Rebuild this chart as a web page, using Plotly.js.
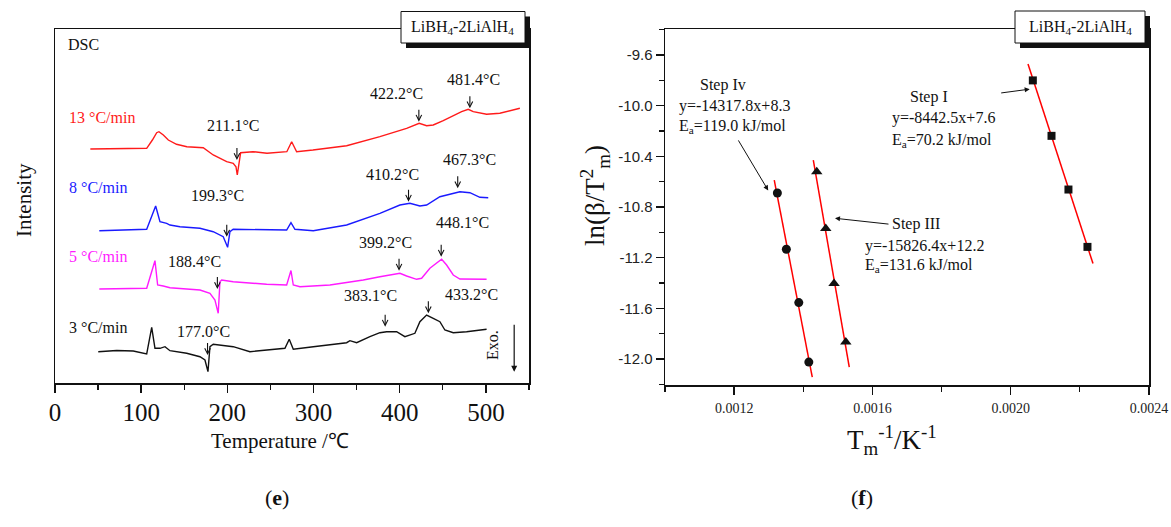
<!DOCTYPE html>
<html>
<head>
<meta charset="utf-8">
<script src="https://cdn.plot.ly/plotly-3.0.1.min.js"></script>
<style>html,body{margin:0;padding:0;background:#fff;}#chart{width:1171px;height:527px;}</style>
</head>
<body>
<div id="chart"></div>
<script>
// ---------- Panel (e): DSC curves (temperature in °C, intensity in arbitrary units) ----------
const tRed = [41, 106.4, 113, 118, 120.6, 125.7, 131.5, 141, 153, 172, 183.6, 199.2, 206.8, 210, 211.5, 213.1, 215.4, 229.7, 246, 269, 274.6, 280.4, 299.3, 338.4, 377, 408, 422.6, 431.2, 438.9, 450.5, 462.1, 471.8, 479.5, 485.3, 500.8, 516.2, 539.4];
const iRed = [234, 234.7, 243, 250.3, 251.3, 248, 243, 238.7, 236.3, 235.3, 228, 221.3, 219.7, 216.3, 208, 219.7, 230.3, 231.3, 229.7, 231.3, 241.3, 231.3, 233, 237.3, 246.3, 254.7, 259.7, 257.3, 258, 262.3, 267.3, 271.3, 273.7, 271.3, 268.7, 269.7, 274.7];

const tBlue = [51.4, 106.4, 116.8, 121.8, 129.6, 133.4, 145, 168.2, 183.6, 195.2, 200.3, 203, 206.8, 245.6, 268.8, 273.8, 278.4, 299.7, 338.4, 377, 400.2, 411.8, 423.4, 431.2, 446.6, 469.8, 481.4, 493, 502.7];
const iBlue = [152.3, 153.7, 177, 161.3, 159.7, 158, 156.3, 154.7, 151.3, 146.3, 135.7, 151.3, 153.7, 153, 153, 160.3, 153.7, 152.3, 158, 169.7, 178, 179.7, 177, 178, 186.3, 191.3, 190.3, 185.7, 185.3];

const tMag = [51.4, 106.4, 116, 119.1, 125.6, 133.4, 168.2, 179.8, 185.6, 189.4, 191.4, 193.4, 206.8, 245.6, 268.8, 273.8, 276.5, 284.2, 319, 357.7, 377, 400.2, 408, 419.6, 425.4, 435, 448.6, 454.4, 462.1, 469.8, 500.8];
const iMag = [94, 94.7, 122.3, 98, 97, 95.3, 93, 89.7, 83, 69.7, 101.3, 103, 101.3, 98.7, 98, 112.5, 98, 96.3, 98, 103, 106.3, 109.7, 107, 103.7, 104.7, 114.7, 123.7, 118, 108, 104, 103.7];

const tBlk = [50.2, 71.6, 90.8, 106.4, 112.2, 116, 121.8, 127.6, 133.4, 152.8, 168.2, 174, 177.5, 179.8, 183.6, 206.8, 226.2, 245.6, 266.8, 271.8, 276.5, 299.7, 338.4, 342.2, 350, 365.4, 377, 384.8, 396.4, 406, 411.8, 417.6, 423.4, 431.2, 438.9, 446.6, 452.4, 462.1, 477.6, 500.8];
const iBlk = [31.3, 32.5, 32, 29, 55.7, 34.7, 34.7, 36.3, 32.3, 29.7, 26.3, 23, 11.3, 36.3, 38.7, 36.3, 31.3, 33, 34.7, 43.7, 33.7, 36.3, 40.3, 42.3, 40.3, 46.3, 50.3, 51.3, 51.3, 46.3, 48, 49.7, 61.3, 68, 64.7, 61.3, 53, 50.3, 51.3, 53.7];

const rateLabels = ['13 °C/min', '8 °C/min', '5 °C/min', '3 °C/min'];
const rateColors = ['#ff1a1a', '#1a1aff', '#ff1aff', '#111111'];

// peak temperatures marked with arrows, and curve intensity at arrow head
const peakTemps = [211.1, 199.3, 188.4, 177.0, 422.2, 481.4, 410.2, 467.3, 399.2, 448.1, 383.1, 433.2];
const peakArrowI = [223, 146.3, 94, 28, 261.3, 274.7, 181.3, 194.7, 112.3, 126.3, 56.3, 69.7];

// ---------- Panel (f): Kissinger plot ----------
const stepIx = [0.002064, 0.002118, 0.002167, 0.002222];
const stepIy = [-9.80, -10.238, -10.662, -11.115];
const stepIVx = [0.001325, 0.001351, 0.001387, 0.001416];
const stepIVy = [-10.689, -11.134, -11.555, -12.025];
const stepIIIx = [0.001439, 0.001465, 0.001489, 0.001523];
const stepIIIy = [-10.522, -10.970, -11.405, -11.866];
const fitIx = [0.00205, 0.002238];
const fitIy = [-9.671, -11.247];
const fitIVx = [0.001316, 0.001426];
const fitIVy = [-10.588, -12.143];
const fitIIIx = [0.001429, 0.001533];
const fitIIIy = [-10.43, -12.064];

const y2TickVals = [-9.6, -10.0, -10.4, -10.8, -11.2, -11.6, -12.0];
const y2TickText = ['-9.6', '-10.0', '-10.4', '-10.8', '-11.2', '-11.6', '-12.0'];

// ---------- helpers ----------
const W = 1171, H = 527;
const PX = x => x / W;
const PY = y => 1 - y / H;
const SERIF = '"Liberation Serif", "Times New Roman", Times, serif';
const SANS = '"Liberation Sans", Arial, Helvetica, sans-serif';
const INK = '#111111';

const traces = [
  {x: tRed, y: iRed, color: rateColors[0]},
  {x: tBlue, y: iBlue, color: rateColors[1]},
  {x: tMag, y: iMag, color: rateColors[2]},
  {x: tBlk, y: iBlk, color: rateColors[3]}
].map(s => ({x: s.x, y: s.y, type: 'scatter', mode: 'lines', xaxis: 'x', yaxis: 'y',
  line: {color: s.color, width: 1.4}, hoverinfo: 'skip'}));

[[fitIx, fitIy], [fitIVx, fitIVy], [fitIIIx, fitIIIy]].forEach(f => traces.push({
  x: f[0], y: f[1], type: 'scatter', mode: 'lines', xaxis: 'x2', yaxis: 'y2',
  line: {color: '#ff0000', width: 1.5}, hoverinfo: 'skip'}));
traces.push({x: stepIx, y: stepIy, type: 'scatter', mode: 'markers', xaxis: 'x2', yaxis: 'y2',
  marker: {symbol: 'square', size: 8, color: INK}, hoverinfo: 'skip'});
traces.push({x: stepIVx, y: stepIVy, type: 'scatter', mode: 'markers', xaxis: 'x2', yaxis: 'y2',
  marker: {symbol: 'circle', size: 9, color: INK}, hoverinfo: 'skip'});
traces.push({x: stepIIIx, y: stepIIIy, type: 'scatter', mode: 'markers', xaxis: 'x2', yaxis: 'y2',
  marker: {symbol: 'triangle-up', size: 10, color: INK}, hoverinfo: 'skip'});

const ann = [];
function txt(text, x, y, o) {
  o = o || {};
  ann.push(Object.assign({text: text, x: PX(x), y: PY(y), xref: 'paper', yref: 'paper',
    showarrow: false, xanchor: 'center', yanchor: 'middle',
    font: {family: SERIF, size: 16, color: INK}}, o));
}
function arrow(x, y, xr, yr, ax, ay, head, w) {
  ann.push({x: x, y: y, xref: xr, yref: yr, text: ' ', showarrow: true, ax: ax, ay: ay,
    arrowhead: head, arrowsize: 1, arrowwidth: w, arrowcolor: INK, font: {size: 1}});
}

// panel (e) texts
txt('DSC', 65.7, 44, {xanchor: 'left'});
const ratePos = [117, 188, 256, 327];
rateLabels.forEach((t, i) => txt(t, 67, ratePos[i], {xanchor: 'left', font: {family: SERIF, size: 16, color: rateColors[i]}}));
const peakLabelPos = [[233, 126], [217, 196], [194, 261], [203, 331], [396, 93], [473, 79], [392, 175], [469.5, 159], [385.5, 242], [462, 223], [370, 295], [471, 294]];
peakTemps.forEach((t, i) => {
  txt(t.toFixed(1) + '°C', peakLabelPos[i][0], peakLabelPos[i][1]);
  arrow(t, peakArrowI[i], 'x', 'y', 0, -14, 5, 1.1);
});
txt('Exo.', 492, 345, {textangle: -90});
arrow(532.8, 11.3, 'x', 'y', 0, -49, 2, 1.2);
txt('Intensity', 24, 200, {textangle: -90, font: {family: SERIF, size: 21, color: INK}});
txt('Temperature /℃', 280, 441, {font: {family: SERIF, size: 21, color: INK}});
txt('(<b>e</b>)', 277, 497, {font: {family: SERIF, size: 22, color: INK}});
txt('LiBH<sub>4</sub>-2LiAlH<sub>4</sub>', 463, 27);

// panel (f) texts
txt('Step Iv', 723, 85);
txt('y=-14317.8x+8.3', 677, 106, {xanchor: 'left'});
txt('E<sub>a</sub>=119.0 kJ/mol', 677, 127, {xanchor: 'left'});
txt('Step III', 890, 224, {xanchor: 'left'});
txt('y=-15826.4x+12.2', 863, 245.7, {xanchor: 'left'});
txt('E<sub>a</sub>=131.6 kJ/mol', 863, 265, {xanchor: 'left'});
txt('Step I', 908, 97, {xanchor: 'left'});
txt('y=-8442.5x+7.6', 890, 118, {xanchor: 'left'});
txt('E<sub>a</sub>=70.2 kJ/mol', 890, 140, {xanchor: 'left'});
arrow(stepIVx[0] - 0.0000265, stepIVy[0] + 0.02, 'x2', 'y2', -31, -52, 2, 1);
arrow(0.0014917, -10.889, 'x2', 'y2', 55, 6, 2, 1);
arrow(0.0020549, -9.869, 'x2', 'y2', -30, 4, 2, 1);
txt('ln(β/T<sup>2</sup><sub>m</sub>)', 595, 196, {textangle: -90, font: {family: SERIF, size: 27, color: INK}});
txt('T<sub>m</sub><sup>-1</sup>/K<sup>-1</sup>', 892, 440, {font: {family: SERIF, size: 27, color: INK}});
txt('(<b>f</b>)', 862, 497, {font: {family: SERIF, size: 22, color: INK}});
txt('LiBH<sub>4</sub>-2LiAlH<sub>4</sub>', 1080, 27);

// label boxes with drop shadow
function box(x0, y0, x1, y1) {
  return [
    {type: 'rect', xref: 'paper', yref: 'paper', x0: PX(x0 + 5), x1: PX(x1 + 5), y0: PY(y0 + 5), y1: PY(y1 + 5),
      fillcolor: INK, line: {width: 0}, layer: 'above'},
    {type: 'rect', xref: 'paper', yref: 'paper', x0: PX(x0), x1: PX(x1), y0: PY(y0), y1: PY(y1),
      fillcolor: '#ffffff', line: {color: INK, width: 1}, layer: 'above'}
  ];
}
const shapes = box(401, 11.5, 525, 43).concat(box(1015, 11, 1145, 43));

const axLine = {showline: true, mirror: true, linecolor: INK, linewidth: 1.5, showgrid: false, zeroline: false, fixedrange: true};

const layout = {
  width: W, height: H, margin: {l: 0, r: 0, t: 0, b: 0}, showlegend: false,
  paper_bgcolor: '#ffffff', plot_bgcolor: '#ffffff',
  xaxis: Object.assign({}, axLine, {domain: [PX(55), PX(529)], range: [0, 550], anchor: 'y',
    tickmode: 'linear', tick0: 0, dtick: 100, ticks: 'outside', ticklen: 8, tickwidth: 1.5, tickcolor: INK,
    ticklabelstandoff: -2,
    minor: {ticks: 'outside', ticklen: 5, tickwidth: 1.2, tickcolor: INK, tick0: 0, dtick: 50},
    tickfont: {family: SERIF, size: 25, color: INK}}),
  yaxis: Object.assign({}, axLine, {domain: [PY(383), PY(29)], range: [0, 354], anchor: 'x',
    ticks: '', showticklabels: false}),
  xaxis2: Object.assign({}, axLine, {domain: [PX(665), PX(1149)], range: [0.001, 0.0024], anchor: 'y2',
    tickmode: 'linear', tick0: 0.0012, dtick: 0.0004, tickformat: '.4f',
    ticks: 'outside', ticklen: 8, tickwidth: 1.5, tickcolor: INK, ticklabelstandoff: 2,
    minor: {ticks: 'outside', ticklen: 5, tickwidth: 1.2, tickcolor: INK, tick0: 0.0012, dtick: 0.0002},
    tickfont: {family: SERIF, size: 14, color: '#222'}}),
  yaxis2: Object.assign({}, axLine, {domain: [PY(385), PY(29)], range: [-12.206, -9.394], anchor: 'x2',
    tickmode: 'array', tickvals: y2TickVals, ticktext: y2TickText,
    ticks: 'outside', ticklen: 8, tickwidth: 1.5, tickcolor: INK,
    minor: {ticks: 'outside', ticklen: 5, tickwidth: 1.2, tickcolor: INK, tickmode: 'linear', tick0: -9.6, dtick: 0.2},
    tickfont: {family: SANS, size: 15, color: '#222'}}),
  annotations: ann,
  shapes: shapes
};

Plotly.newPlot('chart', traces, layout, {staticPlot: true, displayModeBar: false});
</script>
</body>
</html>
